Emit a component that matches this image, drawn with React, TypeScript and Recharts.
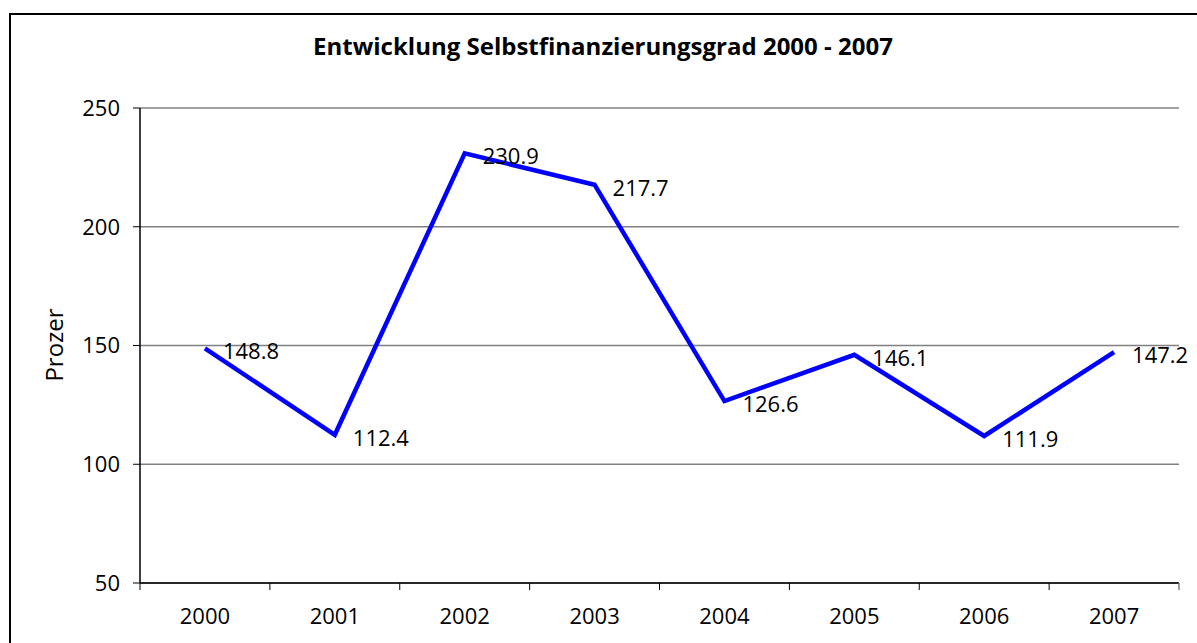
import React from "react";
import { LineChart, Line, XAxis, YAxis, CartesianGrid, LabelList } from "recharts";

const years = ["2000", "2001", "2002", "2003", "2004", "2005", "2006", "2007"];
const selbstfinanzierung = [148.8, 112.4, 230.9, 217.7, 126.6, 146.1, 111.9, 147.2];
const yTicks = [50, 100, 150, 200, 250];

const data = years.map((year, i) => ({ year, value: selbstfinanzierung[i] }));

const FONT = "'Open Sans', 'DejaVu Sans', sans-serif";

const ValueLabel = (props: any) => {
  const { x, y, value } = props;
  return (
    <text
      x={x + 18}
      y={y + 2}
      dominantBaseline="central"
      fontSize={22}
      fontFamily={FONT}
      fill="#000"
    >
      {value}
    </text>
  );
};

const AxisTitle = () => (
  <text
    x={53}
    y={345}
    transform="rotate(-90 53 345)"
    textAnchor="middle"
    dominantBaseline="central"
    fontSize={24}
    fontFamily={FONT}
    fill="#000"
  >
    Prozer
  </text>
);

// year label centred in its band, tick marks on the band borders (Excel style)
const YearTick = (props: any) => {
  const { x, y, payload, index, visibleTicksCount } = props;
  const half = payload?.offset ?? 0;
  const last = index === visibleTicksCount - 1;
  return (
    <g>
      <line x1={x - half} y1={y} x2={x - half} y2={y + 7} stroke="#000" strokeWidth={1} />
      {last && <line x1={x + half} y1={y} x2={x + half} y2={y + 7} stroke="#808080" strokeWidth={1.5} />}
      <text x={x} y={y + 25} dy="0.71em" textAnchor="middle" fontSize={22} fontFamily={FONT} fill="#000">
        {payload.value}
      </text>
    </g>
  );
};

export default function App() {
  return (
    <div style={{ position: "absolute", left: 0, top: 0, width: 1197, height: 643, background: "#fff", overflow: "hidden" }}>
      <div
        style={{
          position: "absolute",
          left: 9,
          top: 13,
          width: 1200,
          height: 640,
          borderLeft: "2px solid #000",
          borderTop: "2px solid #000",
        }}
      />
      <div
        style={{
          position: "absolute",
          left: 9,
          top: 34,
          width: 1188,
          textAlign: "center",
          fontFamily: FONT,
          fontWeight: 700,
          fontSize: 24,
          lineHeight: 1,
          color: "#000",
        }}
      >
        Entwicklung Selbstfinanzierungsgrad 2000 - 2007
      </div>
      <div style={{ position: "absolute", left: 0, top: 0 }}>
        <LineChart width={1197} height={643} data={data} margin={{ top: 108, right: 18, bottom: 20, left: 60 }}>
          <CartesianGrid horizontal vertical={false} stroke="#808080" strokeWidth={1.5} />
          <XAxis
            dataKey="year"
            scale="band"
            height={40}
            tickLine={false}
            tickSize={0}
            tickMargin={0}
            interval={0}
            axisLine={{ stroke: "#000", strokeWidth: 1.5 }}
            tick={<YearTick />}
          />
          <YAxis
            domain={[50, 250]}
            ticks={yTicks}
            width={80}
            tickSize={7}
            tickMargin={13}
            axisLine={{ stroke: "#000", strokeWidth: 1.5 }}
            tickLine={{ stroke: "#000" }}
            tick={{ fontSize: 22, fontFamily: FONT, fill: "#000" }}
            label={{ content: <AxisTitle /> }}
          />
          <YAxis
            yAxisId="right"
            orientation="right"
            width={0}
            domain={[50, 250]}
            tick={false}
            tickLine={false}
            axisLine={{ stroke: "#808080", strokeWidth: 1.5 }}
          />
          <Line
            dataKey="value"
            stroke="#0000FF"
            strokeWidth={4.5}
            dot={false}
            isAnimationActive={false}
          >
            <LabelList dataKey="value" content={<ValueLabel />} />
          </Line>
        </LineChart>
      </div>
    </div>
  );
}
